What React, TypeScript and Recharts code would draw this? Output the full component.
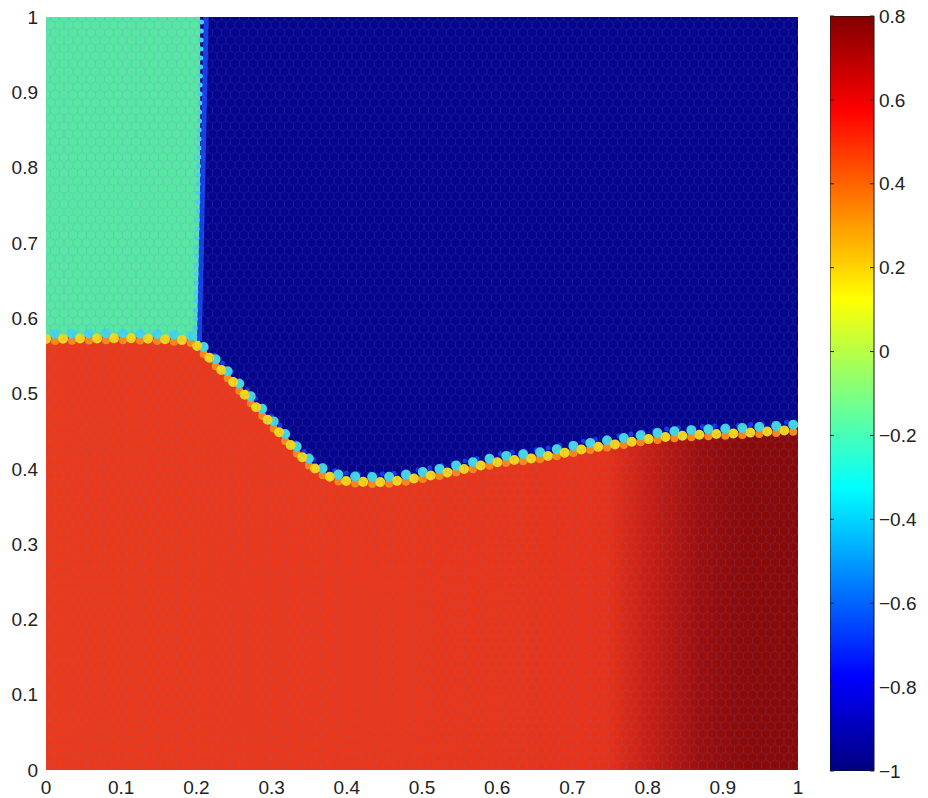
import { ComposedChart, Area, Line, XAxis, YAxis, CartesianGrid, BarChart, Bar } from 'recharts';

// interface between the red and blue/green regions (dot centres)
const interfaceX = [0, 0.1, 0.19, 0.205, 0.225, 0.245, 0.267, 0.289, 0.311, 0.334, 0.355, 0.378, 0.404, 0.444, 0.484, 0.524, 0.564, 0.604, 0.657, 0.71, 0.763, 0.816, 0.87, 0.923, 1];
const interfaceY = [0.575, 0.576, 0.573, 0.562, 0.542, 0.522, 0.498, 0.474, 0.45, 0.425, 0.405, 0.392, 0.386, 0.385, 0.389, 0.396, 0.404, 0.412, 0.418, 0.428, 0.436, 0.444, 0.448, 0.45, 0.455];

// green block in the upper left corner
const greenX = [0, 0.205];
const greenY = [1, 1];

// cyan and blue columns on the green/blue edge
const cyanColX = [0.198, 0.207];
const cyanColY = [0.575, 1];
const blueColX = [0.204, 0.213];
const blueColY = [0.57, 1];

const xTicks = [0, 0.1, 0.2, 0.3, 0.4, 0.5, 0.6, 0.7, 0.8, 0.9, 1];
const yTicks = [0, 0.1, 0.2, 0.3, 0.4, 0.5, 0.6, 0.7, 0.8, 0.9, 1];

const cbMin = -1;
const cbMax = 0.8;
const cbTicks = [-1, -0.8, -0.6, -0.4, -0.2, 0, 0.2, 0.4, 0.6, 0.8];

const interfacePts = interfaceX.map((x, i) => ({ x, y: interfaceY[i] }));
const interfaceRight = interfacePts.filter((p) => p.x >= 0.2);
const greenPts = greenX.map((x, i) => ({ x, y: greenY[i] }));
const cyanCol = cyanColX.map((x, i) => ({ x, y: cyanColY[i] }));
const blueCol = blueColX.map((x, i) => ({ x, y: blueColY[i] }));
const cbData = [{ name: 'cb', range: [cbMin, cbMax] }];

const FONT = '"Liberation Sans", Arial, Helvetica, sans-serif';
const tickStyle = { fontSize: 19, fill: '#222', fontFamily: FONT };

const fmt = (v: number) => (v < 0 ? '\u2212' + Math.abs(v) : String(v));

function CbTick(props: any) {
  const { x, y, payload } = props;
  const right = x - 5;
  const left = right - 44;
  return (
    <g>
      <line x1={left} y1={y} x2={left + 4} y2={y} stroke="#222" />
      <line x1={right - 4} y1={y} x2={right} y2={y} stroke="#222" />
      <text x={x} y={y} dy="0.35em" textAnchor="start" {...tickStyle}>
        {fmt(payload.value)}
      </text>
    </g>
  );
}

const hexW = 9;
const hexH = 10.39;

export default function App() {
  return (
    <div style={{ position: 'absolute', left: 0, top: 0, width: 928, height: 798, background: '#fff' }}>
      <style>{`
        .band-up { transform: translateY(-6px); }
        .dots-up { transform: translateY(-3px); }
        .dots-down { transform: translateY(2px); }
        .dots-low { transform: translateY(4px); }
      `}</style>
      <div style={{ position: 'absolute', left: 0, top: 0 }}>
        <ComposedChart width={820} height={798} margin={{ top: 17, right: 22, bottom: 0, left: 0 }}>
          <defs>
            <linearGradient id="redGrad" x1="0" y1="0" x2="1" y2="0">
              <stop offset="0" stopColor="#ea3a1b" />
              <stop offset="0.6" stopColor="#e8361a" />
              <stop offset="0.745" stopColor="#e63219" />
              <stop offset="0.8" stopColor="#c81f14" />
              <stop offset="0.87" stopColor="#9c0f0e" />
              <stop offset="0.93" stopColor="#8a0a0a" />
              <stop offset="1" stopColor="#880909" />
            </linearGradient>
          </defs>
          <CartesianGrid horizontal={false} vertical={false} fill="#05058e" />
          <XAxis
            dataKey="x"
            type="number"
            domain={[0, 1]}
            ticks={xTicks}
            allowDataOverflow
            axisLine={false}
            tickLine={false}
            tickSize={0}
            tickMargin={11}
            height={28}
            tick={tickStyle}
            tickFormatter={fmt}
            interval={0}
          />
          <YAxis
            dataKey="y"
            type="number"
            domain={[0, 1]}
            ticks={yTicks}
            allowDataOverflow
            axisLine={false}
            tickLine={false}
            tickSize={0}
            tickMargin={8}
            width={46}
            tick={tickStyle}
            tickFormatter={fmt}
            interval={0}
          />
          <Area data={greenPts} dataKey="y" type="linear" baseValue={0} fill="#58e6a4" fillOpacity={1} stroke="none" isAnimationActive={false} dot={false} activeDot={false} />
          <Area data={interfacePts} dataKey="y" type="monotone" baseValue={0} fill="url(#redGrad)" fillOpacity={1} stroke="none" isAnimationActive={false} dot={false} activeDot={false} />
          <Line data={cyanCol} dataKey="y" type="linear" stroke="#40c4f2" strokeWidth={4} strokeDasharray="0 9" strokeLinecap="round" dot={false} activeDot={false} isAnimationActive={false} />
          <Line data={blueCol} dataKey="y" type="linear" stroke="#1640e4" strokeWidth={5} dot={false} activeDot={false} isAnimationActive={false} />
          <Line data={cyanCol} dataKey="y" type="linear" stroke="#48d0ee" strokeWidth={5} strokeDasharray="0 9" strokeLinecap="round" dot={false} activeDot={false} isAnimationActive={false} />
          <Line data={interfaceRight} dataKey="y" type="monotone" className="band-up" stroke="#1238e0" strokeWidth={5} strokeDasharray="0 12" strokeDashoffset={4} strokeLinecap="round" dot={false} activeDot={false} isAnimationActive={false} />
          <Line data={interfacePts} dataKey="y" type="monotone" className="dots-low" stroke="#fa8a18" strokeWidth={8} strokeDasharray="0 17" strokeDashoffset={8} strokeLinecap="round" dot={false} activeDot={false} isAnimationActive={false} />
          <Line data={interfacePts} dataKey="y" type="monotone" className="dots-up" stroke="#44d6e4" strokeWidth={10} strokeDasharray="0 17" strokeDashoffset={8} strokeLinecap="round" dot={false} activeDot={false} isAnimationActive={false} />
          <Line data={interfacePts} dataKey="y" type="monotone" className="dots-down" stroke="#f2d61e" strokeWidth={10} strokeDasharray="0 17" strokeLinecap="round" dot={false} activeDot={false} isAnimationActive={false} />
        </ComposedChart>
      </div>
      <svg style={{ position: 'absolute', left: 46, top: 17, pointerEvents: 'none' }} width={752} height={753}>
        <defs>
          <pattern id="hex" width={hexW} height={hexH * 1.5} patternUnits="userSpaceOnUse">
            <path
              d={`M ${hexW / 2} 0 V ${hexH * 0.25} M 0 ${hexH * 0.5} L ${hexW / 2} ${hexH * 0.25} L ${hexW} ${hexH * 0.5} M 0 ${hexH * 0.5} V ${hexH} M ${hexW} ${hexH * 0.5} V ${hexH} M 0 ${hexH} L ${hexW / 2} ${hexH * 1.25} L ${hexW} ${hexH} M ${hexW / 2} ${hexH * 1.25} V ${hexH * 1.5}`}
              fill="none"
              stroke="#6a6ac0"
              strokeOpacity={0.22}
              strokeWidth={0.8}
            />
          </pattern>
        </defs>
        <rect width={752} height={753} fill="url(#hex)" />
      </svg>
      <div style={{ position: 'absolute', left: 830, top: 0 }}>
        <BarChart width={98} height={798} data={cbData} margin={{ top: 16, right: 0, bottom: 27, left: 0 }} barCategoryGap={0}>
          <defs>
            <linearGradient id="jet" x1="0" y1="0" x2="0" y2="1">
              <stop offset="0" stopColor="#800000" />
              <stop offset="0.125" stopColor="#ff0000" />
              <stop offset="0.375" stopColor="#ffff00" />
              <stop offset="0.625" stopColor="#00ffff" />
              <stop offset="0.875" stopColor="#0000ff" />
              <stop offset="1" stopColor="#000080" />
            </linearGradient>
          </defs>
          <XAxis dataKey="name" hide />
          <YAxis
            orientation="right"
            type="number"
            domain={[cbMin, cbMax]}
            ticks={cbTicks}
            allowDataOverflow
            axisLine={false}
            tickLine={false}
            tickSize={0}
            tickMargin={5}
            width={54}
            tick={<CbTick />}
            interval={0}
          />
          <Bar dataKey="range" fill="url(#jet)" stroke="#111" strokeWidth={1} isAnimationActive={false} />
        </BarChart>
      </div>
    </div>
  );
}
